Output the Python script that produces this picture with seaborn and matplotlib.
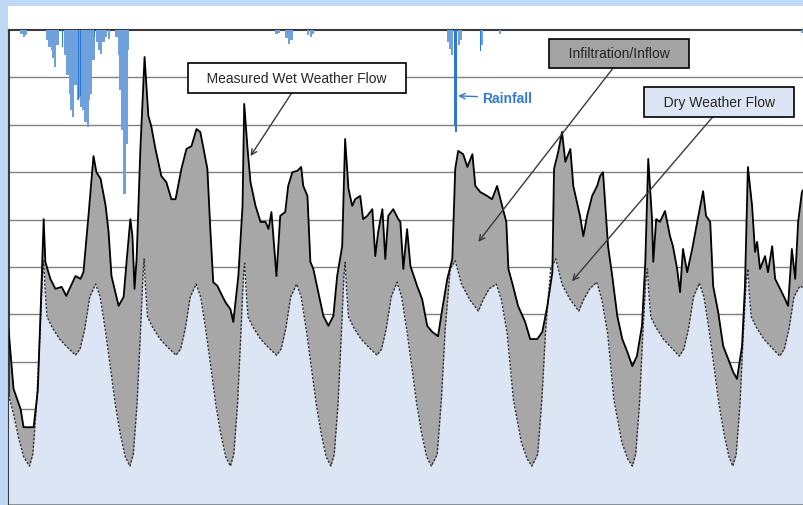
import matplotlib
matplotlib.use("Agg")
import matplotlib.pyplot as plt
from matplotlib.patches import Rectangle
import seaborn as sns

# time axis: hours from start of record; flows in chart units (one gridline = 1)
wet_hours = [0.0, 1.2, 2.9, 3.6, 6.0, 7.0, 7.8, 8.4, 8.8, 10.0, 11.2, 12.7, 13.8, 16.0, 17.2, 17.9,
             19.1, 20.3, 21.0, 22.0, 23.2, 23.9, 24.6, 26.3, 27.5, 28.2, 29.1, 29.6, 30.1, 30.6,
             31.5, 32.5, 33.4, 34.1, 35.1, 36.5, 37.7, 38.9, 39.9, 41.3, 42.5, 43.7, 44.9, 45.8,
             46.6, 47.5, 48.2, 48.9, 49.9, 50.6, 51.8, 53.0, 53.7, 54.9, 55.9, 56.3, 57.1, 57.8,
             59.0, 60.2, 61.4, 62.1, 62.8, 63.3, 64.0, 64.9, 66.1, 66.8, 67.8, 69.0, 69.9, 70.4,
             71.4, 72.1, 72.8, 74.0, 75.2, 76.4, 77.6, 78.5, 79.7, 80.4, 81.2, 82.1, 82.8, 84.0,
             84.7, 85.7, 86.9, 87.6, 88.3, 89.3, 90.0, 90.7, 91.9, 93.1, 93.6, 94.3, 95.2, 96.0,
             97.6, 98.8, 100.0, 101.2, 102.6, 103.6, 104.8, 106.0, 106.7, 107.4, 108.6, 109.6,
             110.8, 111.5, 112.7, 114.3, 115.5, 116.7, 117.9, 118.9, 119.4, 120.5, 121.7, 123.4,
             124.6, 126.3, 127.5, 128.7, 129.9, 130.3, 131.3, 132.2, 133.0, 134.2, 134.9, 136.5,
             137.3, 138.2, 139.4, 140.6, 141.3, 142.0, 143.2, 144.2, 145.4, 146.6, 147.8, 149.0,
             150.1, 151.3, 152.1, 152.8, 153.7, 154.0, 154.7, 155.6, 156.8, 158.0, 158.7, 159.7,
             160.4, 161.1, 162.1, 163.3, 164.5, 165.9, 166.6, 167.6, 168.3, 169.5, 170.7, 171.9,
             173.1, 174.0, 175.2, 175.9, 176.6, 177.6, 178.3, 178.8, 179.5, 180.7, 181.4, 182.4,
             183.1, 184.3, 185.5, 186.2, 187.1, 187.9, 188.6, 189.5, 190.0]
wet_flow = [3.69, 2.43, 2.00, 1.62, 1.62, 2.4, 4.4, 6.01, 5.11, 4.75, 4.54, 4.58, 4.39, 4.81, 4.75, 4.89,
            6.08, 7.34, 7.00, 6.86, 6.29, 5.74, 4.81, 4.18, 4.37, 5.11, 6.01, 5.65, 4.54, 5.17,
            7.49, 9.43, 8.19, 7.97, 7.49, 6.92, 6.79, 6.43, 6.43, 7.07, 7.49, 7.55, 7.91, 7.85,
            7.49, 7.07, 5.80, 4.68, 4.60, 4.47, 4.26, 4.11, 3.84, 4.81, 6.29, 8.44, 7.49, 6.79,
            6.29, 5.95, 5.95, 5.80, 6.16, 5.59, 4.81, 6.08, 6.16, 6.71, 7.00, 7.03, 7.11, 6.71,
            6.50, 5.11, 4.96, 4.47, 3.97, 3.76, 3.97, 4.81, 5.44, 7.70, 6.65, 6.29, 6.43, 6.50,
            6.01, 6.08, 6.22, 5.23, 5.74, 6.22, 5.17, 6.08, 6.22, 6.01, 5.95, 4.96, 5.80, 5.02,
            4.60, 4.32, 3.76, 3.63, 3.54, 4.11, 4.75, 5.17, 7.07, 7.45, 7.38, 7.11,
            7.38, 6.71, 6.58, 6.50, 6.43, 6.71, 6.29, 5.95, 4.96, 4.60, 4.18, 3.84,
            3.48, 3.48, 3.63, 4.18, 4.89, 7.07, 7.43, 7.85, 7.22, 7.49, 6.71, 6.08,
            5.65, 6.08, 6.50, 6.71, 6.92, 7.00, 5.44, 4.81, 3.97, 3.48, 3.21, 2.91,
            3.12, 3.76, 5.11, 7.28, 6.01, 5.11, 6.01, 5.95, 6.18, 5.65, 5.44, 4.96,
            4.47, 5.38, 4.89, 5.38, 5.95, 6.60, 6.08, 5.95, 4.60, 4.05, 3.33, 3.06,
            2.78, 2.64, 3.33, 4.60, 7.11, 6.29, 5.32, 5.53, 4.96, 5.23, 4.89, 5.44,
            4.75, 4.54, 4.32, 4.18, 5.38, 4.75, 5.95, 6.58, 6.65]

dwf_hours = [0.0, 1.2, 2.4, 3.6,
             5.0, 5.8, 6.7, 7.5, 8.1, 8.4, 8.7, 9.2, 10.4, 12.2, 14.0, 16.0, 17.1, 18.2, 19.4, 20.8, 21.9, 23.1, 24.3, 25.5, 26.7, 27.9,
             29.0, 29.8, 30.7, 31.5, 32.1, 32.4, 32.7, 33.2, 34.4, 36.2, 38.0, 40.0, 41.1, 42.2, 43.4, 44.8, 45.9, 47.1, 48.3, 49.5, 50.7, 51.9,
             53.0, 53.8, 54.7, 55.5, 56.1, 56.4, 56.7, 57.2, 58.4, 60.2, 62.0, 64.0, 65.1, 66.2, 67.4, 68.8, 69.9, 71.1, 72.3, 73.5, 74.7, 75.9,
             77.0, 77.8, 78.7, 79.5, 80.1, 80.4, 80.7, 81.2, 82.4, 84.2, 86.0, 88.0, 89.1, 90.2, 91.4, 92.8, 93.9, 95.1, 96.3, 97.5, 98.7, 99.9,
             101.0, 102.4, 103.4, 104.3, 105.5, 106.7, 108.2, 110.1, 112.2, 113.4, 114.8, 116.5, 117.7, 119.1, 120.6, 122.5, 123.9,
             125.0, 126.4, 127.4, 128.3, 129.5, 130.7, 132.2, 134.1, 136.2, 137.4, 138.8, 140.5, 141.7, 143.1, 144.6, 146.5, 147.9,
             149.0, 149.8, 150.7, 151.5, 152.2, 152.6, 152.9, 153.4, 154.6, 156.4, 158.2, 160.2, 161.3, 162.4, 163.6, 165.0, 166.1, 167.3, 168.5, 169.7, 170.9, 172.1,
             173.0, 173.8, 174.7, 175.5, 176.2, 176.6, 176.9, 177.4, 178.6, 180.4, 182.2, 184.2, 185.3, 186.4, 187.6, 189.0, 190.0]
dwf_flow = [2.3, 1.9, 1.4, 1.0,
            0.80, 1.05, 2.1, 3.6, 4.8, 5.13, 4.6, 3.95, 3.73, 3.48, 3.31, 3.14, 3.27, 3.69, 4.37, 4.64, 4.37, 3.69, 2.91, 2.11, 1.48, 0.99,
            0.80, 1.05, 2.1, 3.6, 4.8, 5.17, 4.6, 3.95, 3.73, 3.48, 3.31, 3.14, 3.27, 3.69, 4.37, 4.64, 4.37, 3.69, 2.91, 2.11, 1.48, 0.99,
            0.80, 1.05, 2.1, 3.6, 4.8, 5.08, 4.6, 3.95, 3.73, 3.48, 3.31, 3.14, 3.27, 3.69, 4.37, 4.64, 4.37, 3.69, 2.91, 2.11, 1.48, 0.99,
            0.80, 1.05, 2.1, 3.6, 4.8, 5.10, 4.6, 3.95, 3.73, 3.48, 3.31, 3.14, 3.27, 3.69, 4.37, 4.68, 4.37, 3.69, 2.91, 2.11, 1.48, 0.99,
            0.80, 1.05, 2.22, 3.69, 4.96, 5.13, 4.64, 4.32, 4.07, 4.32, 4.54, 4.64, 4.32, 3.6, 2.2, 1.3, 0.95,
            0.80, 1.05, 2.22, 3.69, 4.96, 5.17, 4.64, 4.32, 4.07, 4.32, 4.54, 4.68, 4.32, 3.6, 2.2, 1.3, 0.95,
            0.80, 1.05, 2.1, 3.6, 4.7, 4.96, 4.5, 3.95, 3.73, 3.48, 3.31, 3.12, 3.27, 3.69, 4.37, 4.66, 4.37, 3.69, 2.91, 2.11, 1.48, 0.99,
            0.80, 1.05, 2.1, 3.6, 4.7, 4.96, 4.5, 3.95, 3.73, 3.48, 3.31, 3.12, 3.27, 3.69, 4.37, 4.60, 4.55]

# rainfall intensity (hanging from the top of the chart)
rain_hours = [3.1, 3.6, 4.1, 9.3, 9.8, 10.3, 10.7, 11.2, 11.7, 13.6, 14.1, 14.6, 15.0, 15.5, 16.0,
              16.5, 16.9, 17.4, 17.9, 18.4, 18.9, 19.3, 19.8, 20.3, 21.2, 21.7, 22.2, 22.7, 23.2,
              23.9, 25.8, 26.3, 26.7, 27.2, 27.7, 28.2, 28.6, 64.0, 64.7, 66.4, 67.1, 67.6, 71.6,
              72.3, 72.8, 105.0, 105.5, 106.0, 107.7, 108.1, 113.1, 117.4, 189.5]
rain_depth = [0.008, 0.015, 0.011, 0.021, 0.036, 0.042, 0.059, 0.078, 0.032, 0.053, 0.095, 0.135, 0.169, 0.184, 0.116,
              0.148, 0.143, 0.162, 0.169, 0.194, 0.205, 0.148, 0.135, 0.063, 0.025, 0.042, 0.051, 0.025, 0.015,
              0.019, 0.015, 0.053, 0.127, 0.211, 0.346, 0.24, 0.042, 0.008, 0.006, 0.017, 0.03, 0.021, 0.011,
              0.015, 0.008, 0.025, 0.04, 0.053, 0.032, 0.021, 0.032, 0.008, 0.007]
burst_hours = [12.9, 16.7, 17.2, 20.5, 106.5, 106.9, 112.7]
burst_depth = [0.036, 0.148, 0.14, 0.015, 0.2, 0.215, 0.044]

sns.set_style("white")
plt.rcParams["font.family"] = ["Liberation Sans", "DejaVu Sans"]

fig = plt.figure(figsize=(8.04, 5.06), dpi=100, facecolor="#bfd8f5")
fig.patches.append(Rectangle((8 / 804, 0), 1, 499 / 506, transform=fig.transFigure,
                             facecolor="white", edgecolor="none", zorder=-5))
ax = fig.add_axes([8.5 / 804, 1 / 506, 795.5 / 804, 474 / 506], zorder=1)
ax.set_facecolor("white")

ax.fill_between(wet_hours, wet_flow, 0, color="#a7a7a7", lw=0, zorder=2)
ax.fill_between(dwf_hours, dwf_flow, 0, color="#dce5f3", lw=0, zorder=3)
sns.lineplot(x=dwf_hours, y=dwf_flow, ax=ax, sort=False, estimator=None, color="#333333",
             lw=1.0, linestyle=(0, (1.6, 1.2)), zorder=4)
sns.lineplot(x=wet_hours, y=wet_flow, ax=ax, sort=False, estimator=None, color="black",
             lw=1.3, zorder=5)

ax.set_xlim(0, 190)
ax.set_ylim(0, 10)
ax.set_yticks(range(1, 10))
ax.set_xticks([])
ax.yaxis.grid(True, color="#808080", lw=1)
ax.set_axisbelow(True)
ax.tick_params(left=False, labelleft=False, bottom=False, labelbottom=False, length=0)
ax.set_xlabel("")
ax.set_ylabel("")
for side in ["top", "left", "bottom"]:
    ax.spines[side].set_color("#3a3a3a")
    ax.spines[side].set_linewidth(1.5)
ax.spines["right"].set_visible(False)

ax2 = ax.twinx()
ax2.bar(rain_hours, rain_depth, width=0.5, color="#6fa1dd", lw=0)
ax2.bar(burst_hours, burst_depth, width=0.3, color="#2a78d4", lw=0)
ax2.set_ylim(1, 0)
ax2.set_yticks([])
for s in ax2.spines.values():
    s.set_visible(False)

arrow = dict(arrowstyle="->", color="#3a3a3a", lw=1, shrinkA=0, shrinkB=0, relpos=(0.5, 0))
box = dict(boxstyle="square,pad=0.55", ec="black", lw=1.2)
ax2.annotate("   Measured Wet Weather Flow   ", xy=(57.8, 7.34), xytext=(68.9, 8.99),
             xycoords=ax.transData, textcoords=ax.transData, ha="center", va="center",
             fontsize=10, bbox=dict(box, fc="white"), arrowprops=arrow, zorder=6)
ax2.annotate("   Infiltration/Inflow   ", xy=(112.2, 5.53), xytext=(145.85, 9.51),
             xycoords=ax.transData, textcoords=ax.transData, ha="center", va="center",
             fontsize=10, bbox=dict(box, fc="#a3a3a3"), arrowprops=arrow, zorder=6)
ax2.annotate("   Dry Weather Flow   ", xy=(134.6, 4.70), xytext=(169.8, 8.48),
             xycoords=ax.transData, textcoords=ax.transData, ha="center", va="center",
             fontsize=10, bbox=dict(box, fc="#dce5f3"), arrowprops=arrow, zorder=6)
ax2.annotate("Rainfall", xy=(107.4, 8.61), xytext=(113.1, 8.57),
             xycoords=ax.transData, textcoords=ax.transData, ha="left", va="center",
             fontsize=10, fontweight="bold", color="#2f7bd3",
             arrowprops=dict(arrowstyle="->", color="#2f7bd3", lw=1, shrinkA=1, shrinkB=0), zorder=6)

fig.savefig("out.png", dpi=100, facecolor=fig.get_facecolor())
